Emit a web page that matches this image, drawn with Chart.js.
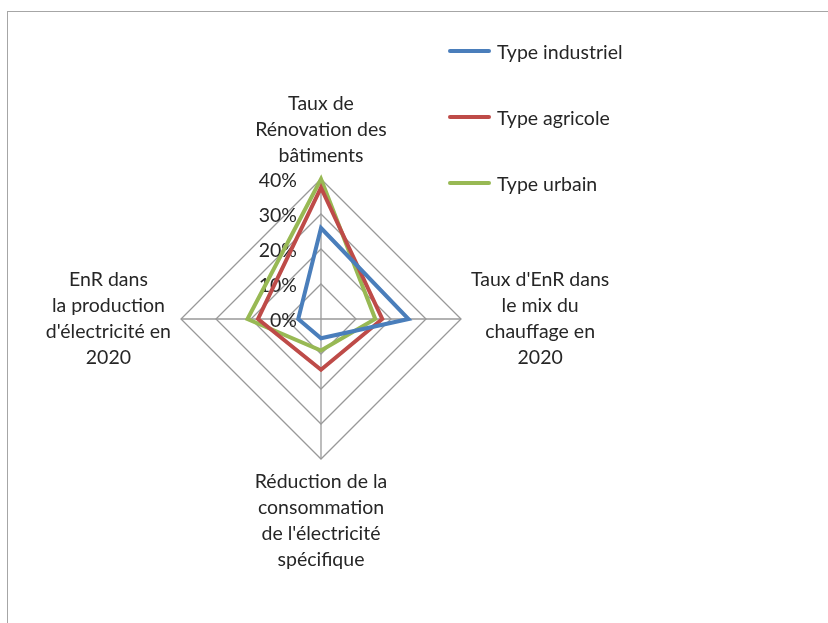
<!DOCTYPE html>
<html lang="fr">
<head>
<meta charset="utf-8">
<script src="https://cdn.jsdelivr.net/npm/chart.js@4/dist/chart.umd.min.js"></script>
<style>
  html, body { margin: 0; padding: 0; background: #fff; }
  body { width: 828px; height: 623px; position: relative; overflow: hidden; font-family: Lato, sans-serif; }
  #frame { position: absolute; left: 7px; top: 11px; width: 900px; height: 700px; border: 1.5px solid #a6a6a6; box-sizing: border-box; }
  #chart { position: absolute; left: 0; top: 0; }
  .leg { position: absolute; left: 448px; height: 26px; display: flex; align-items: center; font-size: 19.5px; color: #262626; }
  .leg span.ln { display: inline-block; width: 43px; height: 4px; border-radius: 2px; margin-right: 6px; }
</style>
</head>
<body>
<div id="frame"></div>
<canvas id="chart" width="828" height="623"></canvas>
<div id="legend"></div>
<script>
const categories = [
  ["Taux de", "Rénovation des", "bâtiments"],
  ["Taux d'EnR dans", "le mix du", "chauffage en", "2020"],
  ["Réduction de la", "consommation", "de l'électricité", "spécifique"],
  ["EnR dans", "la production", "d'électricité en", "2020"]
];
const seriesNames = ["Type industriel", "Type agricole", "Type urbain"];
const industriel = [26, 25, 5.5, 6.5];
const agricole = [37.5, 17.5, 14.5, 18];
const urbain = [40, 15.5, 9, 21];
const tickValues = [0, 10, 20, 30, 40];
const colors = ["#4a7ebb", "#be4b48", "#98b954"];

const LABEL_PAD = 10;
const LINE_H = 26;
const FONT = "19.5px Lato, sans-serif";

// legend on the right, one row per series
const legend = document.getElementById("legend");
const legendY = [38, 104, 170];
seriesNames.forEach((name, i) => {
  const row = document.createElement("div");
  row.className = "leg";
  row.style.top = legendY[i] + "px";
  row.innerHTML = `<span class="ln" style="background:${colors[i]}"></span>${name}`;
  legend.appendChild(row);
});

// tick and category labels, centred multi-line text like the spreadsheet chart
const labelPlugin = {
  id: "radarLabels",
  beforeDatasetsDraw(chart) {
    const r = chart.scales.r;
    const ctx = chart.ctx;
    ctx.save();
    ctx.font = FONT;
    ctx.fillStyle = "#262626";
    ctx.textAlign = "right";
    ctx.textBaseline = "middle";
    r.ticks.forEach(t => {
      const d = r.getDistanceFromCenterForValue(t.value);
      ctx.fillText(t.value + "%", r.xCenter - 24, r.yCenter - d + 2);
    });
    ctx.textAlign = "center";
    categories.forEach((lines, i) => {
      const p = r.getPointPosition(i, r.drawingArea + LABEL_PAD);
      const ang = r.getIndexAngle(i);
      const dx = Math.sin(ang), dy = -Math.cos(ang);
      const w = Math.max(...lines.map(s => ctx.measureText(s).width));
      const h = lines.length * LINE_H;
      let cx = p.x, top;
      if (Math.abs(dx) < 0.01) {
        top = dy < 0 ? p.y - h : p.y;
      } else {
        cx = p.x + Math.sign(dx) * w / 2;
        top = p.y - h / 2;
      }
      lines.forEach((s, k) => ctx.fillText(s, cx, top + LINE_H / 2 + k * LINE_H));
    });
    ctx.restore();
  }
};

new Chart(document.getElementById("chart"), {
  type: "radar",
  data: {
    labels: categories,
    datasets: [
      { label: seriesNames[0], data: industriel, borderColor: colors[0] },
      { label: seriesNames[1], data: agricole, borderColor: colors[1] },
      { label: seriesNames[2], data: urbain, borderColor: colors[2] }
    ].map(ds => Object.assign(ds, {
      fill: false,
      borderWidth: 4,
      borderJoinStyle: "miter",
      pointRadius: 0,
      pointHoverRadius: 0
    }))
  },
  options: {
    responsive: false,
    animation: false,
    layout: { padding: { left: 181, top: 179, right: 367, bottom: 164 } },
    plugins: { legend: { display: false }, tooltip: { enabled: false } },
    scales: {
      r: {
        min: tickValues[0],
        max: tickValues[tickValues.length - 1],
        ticks: { stepSize: 10, display: false },
        pointLabels: { display: false },
        grid: { color: "#999", lineWidth: 1.3 },
        angleLines: { color: "#999", lineWidth: 1.3 }
      }
    }
  },
  plugins: [labelPlugin]
});
</script>
</body>
</html>
